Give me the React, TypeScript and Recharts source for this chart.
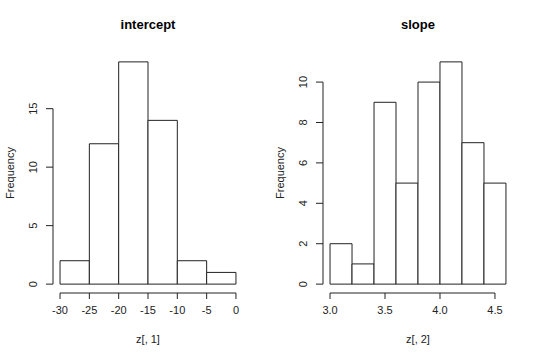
import React from "react";
import {
  ComposedChart,
  XAxis,
  YAxis,
  ReferenceArea,
  ReferenceLine,
} from "recharts";

// intercept histogram
const interceptEdges = [-30, -25, -20, -15, -10, -5, 0];
const interceptCounts = [2, 12, 19, 14, 2, 1];
const interceptXTicks = [-30, -25, -20, -15, -10, -5, 0];
const interceptYTicks = [0, 5, 10, 15];

// slope histogram
const slopeEdges = [3.0, 3.2, 3.4, 3.6, 3.8, 4.0, 4.2, 4.4, 4.6];
const slopeCounts = [2, 1, 9, 5, 10, 11, 7, 5];
const slopeXTicks = [3.0, 3.5, 4.0, 4.5];
const slopeYTicks = [0, 2, 4, 6, 8, 10];

const FONT = "'Liberation Sans', Arial, Helvetica, sans-serif";
const INK = "#222";

// R pads the axis range by 4% on both sides
const pad = (lo: number, hi: number): [number, number] => {
  const d = (hi - lo) * 0.04;
  return [lo - d, hi + d];
};

interface HistProps {
  title: string;
  xLabel: string;
  edges: number[];
  counts: number[];
  xTicks: number[];
  yTicks: number[];
  xFormat: (v: number) => string;
  left: number;
}

function YTick(props: any) {
  const { x, y, payload } = props;
  return (
    <text
      x={x}
      y={y}
      transform={`rotate(-90, ${x}, ${y})`}
      textAnchor="middle"
      fontSize={11}
      fontFamily={FONT}
      fill={INK}
    >
      {payload.value}
    </text>
  );
}

function Histogram({
  title,
  xLabel,
  edges,
  counts,
  xTicks,
  yTicks,
  xFormat,
  left,
}: HistProps) {
  const xDomain = pad(edges[0], edges[edges.length - 1]);
  const yDomain = pad(0, Math.max(...counts));
  const bins = counts.map((c, i) => ({ lo: edges[i], hi: edges[i + 1], count: c }));

  return (
    <div style={{ position: "absolute", left, top: 0, width: 270, height: 360 }}>
      <ComposedChart
        width={270}
        height={360}
        data={bins}
        margin={{ top: 53, right: 27, bottom: 37, left: 0 }}
      >
        <XAxis
          type="number"
          dataKey="lo"
          domain={xDomain}
          allowDataOverflow
          ticks={xTicks}
          tickFormatter={xFormat}
          interval={0}
          axisLine={false}
          tickLine={{ stroke: INK }}
          tickSize={6}
          tickMargin={7}
          height={30}
          tick={{ fontSize: 11, fontFamily: FONT, fill: INK }}
        />
        <YAxis
          type="number"
          domain={yDomain}
          allowDataOverflow
          ticks={yTicks}
          interval={0}
          axisLine={false}
          tickLine={{ stroke: INK }}
          tickSize={7}
          tickMargin={9}
          width={53}
          tick={<YTick />}
        />
        {bins.map((b, i) => (
          <ReferenceArea
            key={i}
            x1={b.lo}
            x2={b.hi}
            y1={0}
            y2={b.count}
            fill="#fff"
            fillOpacity={1}
            stroke={INK}
            strokeWidth={1}
          />
        ))}
        <ReferenceLine
          segment={[
            { x: xTicks[0], y: yDomain[0] },
            { x: xTicks[xTicks.length - 1], y: yDomain[0] },
          ]}
          stroke={INK}
          ifOverflow="visible"
        />
        <ReferenceLine
          segment={[
            { x: xDomain[0], y: yTicks[0] },
            { x: xDomain[0], y: yTicks[yTicks.length - 1] },
          ]}
          stroke={INK}
          ifOverflow="visible"
        />
      </ComposedChart>
      <div
        style={{
          position: "absolute",
          left: 53,
          width: 190,
          top: 17,
          textAlign: "center",
          fontFamily: FONT,
          fontWeight: "bold",
          fontSize: 13,
          color: "#000",
        }}
      >
        {title}
      </div>
      <div
        style={{
          position: "absolute",
          left: 53,
          width: 190,
          top: 333,
          textAlign: "center",
          fontFamily: FONT,
          fontSize: 11,
          color: INK,
        }}
      >
        {xLabel}
      </div>
      <div
        style={{
          position: "absolute",
          left: 10,
          top: 173,
          transform: "translate(-50%, -50%) rotate(-90deg)",
          fontFamily: FONT,
          fontSize: 11,
          color: INK,
          whiteSpace: "nowrap",
        }}
      >
        Frequency
      </div>
    </div>
  );
}

export default function App() {
  return (
    <div
      style={{
        position: "absolute",
        left: 0,
        top: 0,
        width: 540,
        height: 360,
        background: "#fff",
      }}
    >
      <Histogram
        title="intercept"
        xLabel="z[, 1]"
        edges={interceptEdges}
        counts={interceptCounts}
        xTicks={interceptXTicks}
        yTicks={interceptYTicks}
        xFormat={(v) => String(v)}
        left={0}
      />
      <Histogram
        title="slope"
        xLabel="z[, 2]"
        edges={slopeEdges}
        counts={slopeCounts}
        xTicks={slopeXTicks}
        yTicks={slopeYTicks}
        xFormat={(v) => v.toFixed(1)}
        left={270}
      />
    </div>
  );
}
